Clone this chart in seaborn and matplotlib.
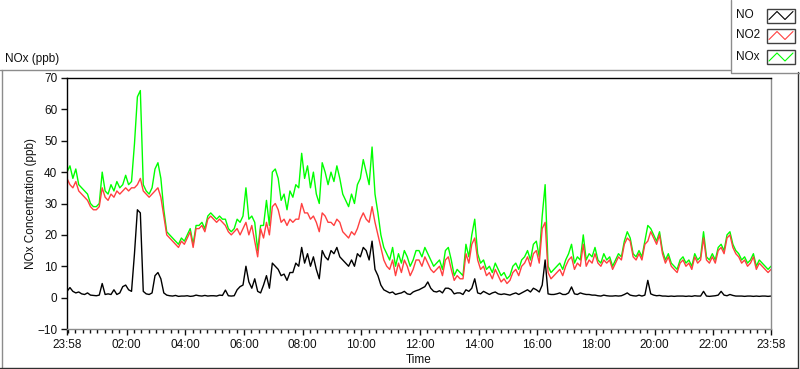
import pandas as pd
import matplotlib.pyplot as plt
import matplotlib.dates as mdates
from matplotlib.lines import Line2D
from matplotlib.patches import Rectangle
import seaborn as sns

# readings every 6 minutes from 23:58 to 23:58 (10 per hour, one row per hour)
no_ppb = [
    2.0, 3.2, 2.0, 1.5, 1.8, 1.2, 1.0, 1.5, 0.8, 0.7,
    0.6, 0.8, 4.5, 1.0, 1.2, 1.0, 2.5, 1.0, 1.5, 3.5,
    4.0, 2.5, 2.0, 14, 28, 27, 2.0, 1.2, 1.0, 1.5,
    7.0, 8.0, 6.0, 1.5, 0.8, 0.6, 0.5, 0.7, 0.4, 0.5,
    0.5, 0.6, 0.4, 0.5, 0.8, 0.6, 0.5, 0.7, 0.5, 0.6,
    0.6, 0.5, 0.8, 0.7, 2.4, 0.6, 0.5, 0.6, 2.5, 3.5,
    4.0, 10, 5.0, 3.0, 6.0, 2.0, 1.5, 4.0, 7.0, 3.0,
    11, 10, 9, 7, 7.5, 5.5, 8, 8, 11, 10,
    16, 11, 14, 10, 13, 9, 6, 15, 13, 12,
    15, 14, 16, 13, 12, 11, 10, 12, 10, 14,
    13, 16, 15, 12, 18, 9, 7, 4, 2.5, 2,
    1.5, 1.8, 1.0, 1.3, 1.5, 2.0, 1.2, 1.0, 1.8, 2.2,
    2.5, 3.0, 3.5, 5.0, 3.0, 2.0, 1.8, 2.2, 1.5, 3.0,
    3.0, 2.5, 1.2, 1.5, 1.5, 1.0, 2.5, 2.0, 3.0, 6.0,
    1.5, 1.2, 2.0, 1.5, 1.0, 1.5, 1.8, 1.2, 1.0, 1.2,
    1.0, 0.8, 1.2, 1.5, 1.0, 1.5, 2.0, 2.5, 1.8, 3.0,
    2.5, 1.8, 4.0, 12, 1.2, 1.0, 1.0, 1.2, 1.5, 1.0,
    1.0, 1.5, 3.4, 1.2, 1.0, 1.5, 1.2, 1.0, 1.0, 0.8,
    0.8, 0.6, 0.5, 0.8, 0.6, 0.5, 0.5, 0.6, 0.5, 0.6,
    1.0, 1.5, 0.8, 0.6, 0.5, 0.8, 0.5, 0.8, 5.5, 1.2,
    0.8, 0.6, 0.7, 0.5, 0.5, 0.4, 0.5, 0.4, 0.5, 0.5,
    0.5, 0.4, 0.5, 0.4, 0.6, 0.5, 0.5, 2.0, 0.5, 0.4,
    0.5, 0.6, 0.8, 2.0, 0.8, 0.6, 1.0, 0.7, 0.5, 0.5,
    0.5, 0.4, 0.5, 0.5, 0.4, 0.5, 0.4, 0.5, 0.5, 0.4, 0.5,
]

no2_ppb = [
    38, 36, 35, 37, 34, 33, 32, 31, 29, 28,
    28, 29, 35, 32, 31, 33, 32, 34, 33, 34,
    35, 34, 35, 35, 36, 38, 34, 33, 32, 33,
    34, 35, 32, 26, 20, 19, 18, 17, 16, 18,
    17, 19, 21, 16, 22, 22, 23, 21, 25, 26,
    25, 24, 25, 24, 23, 21, 20, 21, 22, 20,
    22, 24, 20, 23, 18, 13, 22, 19, 24, 20,
    29, 30, 28, 24, 25, 23, 25, 24, 25, 25,
    30, 27, 27, 25, 26, 24, 21, 27, 26, 24,
    24, 23, 25, 24, 21, 20, 19, 21, 20, 22,
    25, 27, 25, 24, 29, 24, 20, 16, 12, 10,
    9, 12, 7, 11, 8, 12, 10, 7, 9, 12,
    12, 10, 13, 11, 9, 8, 9, 10, 7, 12,
    13, 9, 5.5, 7, 6, 6, 14, 11, 17, 19,
    12, 9, 10, 7, 8, 6, 9, 7, 5, 6,
    4.5, 5.5, 8, 9, 7, 10, 11, 13, 10, 14,
    15, 11, 22, 24, 8, 6, 7, 8, 9, 7,
    10, 12, 13, 9, 11, 10, 17, 10, 12, 11,
    14, 11, 10, 12, 11, 12, 9, 11, 13, 12,
    17, 19, 18, 13, 12, 14, 12, 17, 18, 21,
    19, 17, 20, 14, 11, 13, 10, 9, 8, 11,
    12, 10, 11, 9, 13, 11, 12, 19, 12, 11,
    13, 11, 15, 16, 14, 19, 20, 16, 14, 13,
    11, 12, 10, 11, 13, 9, 11, 10, 9, 8, 9,
]

nox_ppb = [
    40, 42, 38, 41, 36, 35, 34, 33, 30, 29,
    29, 30, 40, 34, 33, 36, 34, 37, 35, 36,
    39, 36, 37, 49, 64, 66, 36, 34, 33, 35,
    41, 43, 38, 28, 21, 20, 19, 18, 17, 19,
    18, 20, 22, 17, 23, 23, 24, 22, 26, 27,
    26, 25, 26, 25, 25, 22, 21, 22, 25, 24,
    26, 35, 25, 26, 24, 15, 23, 23, 31, 23,
    40, 41, 38, 31, 33, 28, 34, 32, 36, 35,
    46, 38, 42, 35, 40, 33, 30, 43, 40, 36,
    40, 37, 42, 38, 33, 31, 29, 33, 30, 36,
    38, 44, 40, 36, 48, 33, 27, 20, 16, 14,
    12, 16, 10, 14, 11, 15, 13, 10, 12, 15,
    15, 13, 16, 14, 12, 10, 11, 12, 9, 15,
    16, 12, 7, 9, 8, 7, 17, 13, 20, 25,
    14, 11, 12, 9, 10, 8, 11, 9, 7, 8,
    6, 7, 10, 11, 9, 12, 13, 15, 12, 17,
    18, 13, 26, 36, 10, 8, 9, 10, 11, 9,
    12, 14, 17, 11, 13, 12, 20, 12, 14, 13,
    16, 12, 11, 14, 12, 13, 10, 12, 14, 13,
    18, 21, 19, 14, 13, 15, 13, 18, 23, 22,
    20, 18, 21, 15, 12, 14, 11, 10, 9, 12,
    13, 11, 12, 10, 14, 12, 13, 21, 13, 12,
    14, 12, 16, 17, 15, 20, 21, 17, 15, 14,
    12, 13, 11, 12, 14, 10, 12, 11, 10, 9, 10,
]

series_names = ['NO', 'NO2', 'NOx']
series_colors = ['#000000', '#ff4040', '#00ff00']
y_ticks = [-10, 0, 10, 20, 30, 40, 50, 60, 70]

times = pd.date_range('2024-01-01 23:58', periods=len(no_ppb), freq='6min')
df = pd.DataFrame({'Time': times, 'NO': no_ppb, 'NO2': no2_ppb, 'NOx': nox_ppb})

sns.set_style('white')
plt.rcParams['font.family'] = ['Liberation Sans', 'DejaVu Sans']
txt = '#101010'
fs = 8.5

W, H = 800, 369
fig = plt.figure(figsize=(W / 100, H / 100), dpi=100)


def fx(x):
    return x / W


def fy(y):
    return 1 - y / H


def fline(xs, ys, color, lw=1.0):
    fig.add_artist(Line2D([fx(v) for v in xs], [fy(v) for v in ys],
                          transform=fig.transFigure, color=color, lw=lw))


ax = fig.add_axes([fx(67), fy(329), (771 - 67) / W, (329 - 78) / H])

# green behind red behind black
for name, col in zip(series_names[::-1], series_colors[::-1]):
    sns.lineplot(data=df, x='Time', y=name, color=col, lw=1, ax=ax)

ax.set_ylim(-10, 70)
ax.set_yticks(y_ticks)
ax.set_xlim(times[0], times[-1])

midnight = pd.Timestamp('2024-01-02')
majors = [times[0]] + [midnight + pd.Timedelta(hours=2 * k) for k in range(1, 12)] + [times[-1]]
ax.set_xticks(majors)
ax.set_xticklabels([t.strftime('%H:%M') for t in majors])
ax.xaxis.set_minor_locator(mdates.MinuteLocator(byminute=[0, 15, 30, 45]))

ax.tick_params(axis='x', which='major', length=4.5, width=1, pad=3, labelsize=fs, colors=txt, direction='out', bottom=True)
ax.tick_params(axis='x', which='minor', length=2.8, width=1, direction='out', bottom=True, color=txt)
ax.tick_params(axis='y', which='major', length=4.5, width=1, pad=2.5, labelsize=fs, colors=txt, direction='out', left=True)

ax.set_xlabel('Time', fontsize=fs, color=txt)
ax.set_ylabel('NOx Concentration (ppb)', fontsize=fs, color=txt)
ax.xaxis.set_label_coords(0.5, (329 - 354) / (329 - 78))
ax.yaxis.set_label_coords((37 - 67) / (771 - 67), 0.5)

for side in ['left', 'top']:
    ax.spines[side].set_color('#000000')
    ax.spines[side].set_linewidth(1)
for side in ['right', 'bottom']:
    ax.spines[side].set_color('#8c8c8c')
    ax.spines[side].set_linewidth(1)

# outer panel frame
fline([0, 730], [69.5, 69.5], '#8c8c8c')
fline([1.5, 1.5], [69.5, 367], '#8c8c8c')
fline([0, 798], [367.5, 367.5], '#303030')
fline([797.5, 797.5], [72, 368], '#303030')

fig.text(fx(5), fy(59), 'NOx (ppb)', fontsize=fs, color=txt, va='center', ha='left')

# legend panel
fig.add_artist(Rectangle((fx(730), fy(72)), (800 - 730) / W, 72 / H, transform=fig.transFigure,
                         facecolor='white', edgecolor='none'))
fline([730.5, 730.5], [0, 72], '#8c8c8c')
fline([730.5, 800], [72.5, 72.5], '#8c8c8c')

centers = [15.5, 35.5, 57]
for name, col, cy in zip(series_names, series_colors, centers):
    fig.text(fx(736), fy(cy), name, fontsize=fs, color=txt, va='center', ha='left')
    top, bot = cy - 7, cy + 7
    fig.add_artist(Rectangle((fx(767), fy(bot)), 28 / W, 14 / H, transform=fig.transFigure,
                             facecolor='white', edgecolor='#404040', lw=1))
    fline([769, 777, 785, 793], [bot - 3, top + 3, bot - 3, top + 3], col, lw=0.8)

fig.savefig('out.png', dpi=100)
